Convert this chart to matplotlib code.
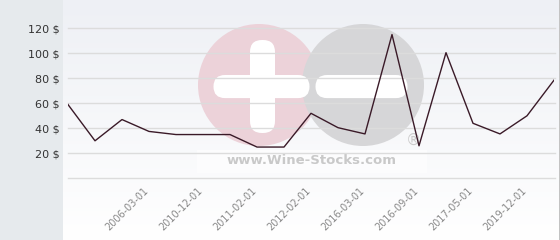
import matplotlib
matplotlib.use("Agg")
import matplotlib.pyplot as plt
import numpy as np
from matplotlib.patches import Rectangle, Circle, FancyBboxPatch
from matplotlib.colors import LinearSegmentedColormap
from matplotlib.transforms import ScaledTranslation

# ---- data ----
prices = [59, 30, 47, 37.5, 35, 35, 35, 25, 25, 52, 40.5, 35.5, 115, 26, 100.5, 44, 35.5, 50, 78.5]
tick_idx = [3, 5, 7, 9, 11, 13, 15, 17]
tick_labels = ["2006-03-01", "2010-12-01", "2011-02-01", "2012-02-01",
               "2016-03-01", "2016-09-01", "2017-05-01", "2019-12-01"]
y_ticks = [20, 40, 60, 80, 100, 120]

W, H = 560, 240
fig = plt.figure(figsize=(W / 100, H / 100), dpi=100)
fig.patch.set_facecolor("white")

def fx(px):
    return px / W

def fy(py):
    return 1 - py / H

# left grey panel
fig.patches.append(Rectangle((0, 0), fx(63), 1, transform=fig.transFigure,
                             facecolor="#e6eaed", edgecolor="none", zorder=0))
# gradient plot background
bg = fig.add_axes([fx(63), 0, fx(559) - fx(63), 1], zorder=0)
grad = np.linspace(0, 1, 256).reshape(-1, 1)
cmap = LinearSegmentedColormap.from_list("g", ["#eef0f5", "#ffffff"])
bg.imshow(grad, aspect="auto", cmap=cmap, extent=[0, 1, 0, 1], origin="upper")
bg.set_axis_off()
# right border
fig.lines.append(plt.Line2D([fx(559.5), fx(559.5)], [0, 1], transform=fig.transFigure,
                            color="#b8b8b8", lw=1.2, zorder=5))

# watermark (figure pixel coords)
wm = fig.add_axes([0, 0, 1, 1], zorder=1)
wm.set_xlim(0, W)
wm.set_ylim(H, 0)
wm.set_axis_off()
wm.patch.set_alpha(0)
wm.add_patch(Circle((259, 85), 61, facecolor="#ecd2d9", edgecolor="none"))
wm.add_patch(Circle((363, 85), 61, facecolor="#d6d6d8", edgecolor="none"))
wm.add_patch(FancyBboxPatch((250 + 12, 40 + 12), 25 - 24, 93 - 24,
                            boxstyle="round,pad=12", facecolor="white", edgecolor="none"))
wm.add_patch(FancyBboxPatch((213 + 12, 75 + 11.5), 97 - 24, 0.1,
                            boxstyle="round,pad=11.5", facecolor="white", edgecolor="none"))
wm.add_patch(FancyBboxPatch((315 + 12, 75 + 11.5), 93 - 24, 0.1,
                            boxstyle="round,pad=11.5", facecolor="white", edgecolor="none"))
wm.add_patch(Rectangle((197, 150), 230, 23, facecolor="white", alpha=0.6, edgecolor="none"))
wm.text(312, 161, "www.Wine-Stocks.com", ha="center", va="center", fontsize=9.5,
        fontweight="bold", color="#c9c9c9", family="DejaVu Sans")
wm.text(413, 140, "®", ha="center", va="center", fontsize=11, color="#cccccc")

# main axes
x0, x1 = 68, 554
ybot, ytop = 178.3, 15
ax = fig.add_axes([fx(x0), fy(ybot), fx(x1) - fx(x0), fy(ytop) - fy(ybot)], zorder=2)
ax.patch.set_alpha(0)
ax.set_xlim(0, len(prices) - 1)
ax.set_ylim(0, (ybot - ytop) / 1.25)
for v in [0] + y_ticks:
    ax.axhline(v, xmin=0, xmax=(555 - x0) / (x1 - x0), color="#dcdcdc", lw=1, zorder=1, clip_on=False)
x = np.arange(len(prices))
ax.plot(x, prices, color="#3a1a28", lw=1, zorder=3)

ax.set_yticks(y_ticks)
ax.set_yticklabels([f"{v} $" for v in y_ticks], fontsize=8, color="#333333")
ax.set_xticks(tick_idx)
ax.set_xticklabels(tick_labels, rotation=45, ha="right", rotation_mode="anchor",
                   fontsize=7, color="#888888")
ax.tick_params(axis="y", length=0, pad=6)
ax.tick_params(axis="x", length=0, pad=5)
off = ScaledTranslation(-6 / 100, 0, fig.dpi_scale_trans)
for lbl in ax.get_xticklabels():
    lbl.set_transform(lbl.get_transform() + off)
for s in ax.spines.values():
    s.set_visible(False)

fig.savefig("out.png", dpi=100)
